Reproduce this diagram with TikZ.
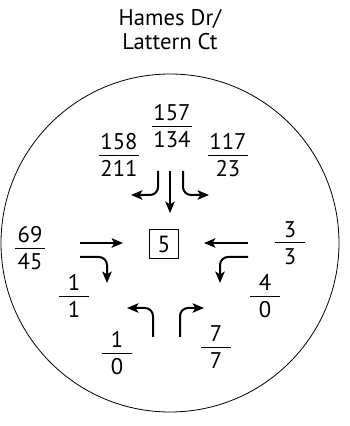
\documentclass[tikz,border=0pt]{standalone}
\usepackage{fontspec}
\usepackage{tikz}
\setmainfont{PT Sans}
\usetikzlibrary{positioning,arrows.meta}

\setlength{\arrayrulewidth}{0.6pt}
\newcommand{\flow}[2]{{\renewcommand{\arraystretch}{0}%
  \begin{tabular}{@{\hspace{1pt}}c@{\hspace{1pt}}}\rule[-3.75pt]{0pt}{3.75pt}#1\\\hline
  \rule{0pt}{15.6pt}#2\\\rule{20.5pt}{0pt}\end{tabular}}}

\begin{document}
\begin{tikzpicture}[
      x=0.75pt, y=0.75pt,
      >={Stealth[length=8.5pt,width=7pt,inset=2pt]},
      vol/.style={inner sep=0pt, font=\fontsize{17}{19}\selectfont},
      lane/.style={line width=1.5pt, ->, rounded corners=6pt},
      idbox/.style={draw, line width=0.6pt, minimum width=21.5pt, minimum height=22pt, inner sep=0pt, font=\fontsize{17.5}{20}\selectfont}]
    \useasboundingbox (0,0) rectangle (350,426);
    \node[align=center, font=\fontsize{17}{18}\selectfont] (title) at (170,396) {Hames Dr/\\Lattern Ct};
    \node[draw, circle, line width=0.6pt, minimum size=253.5pt, inner sep=0pt] (ring) at (170,183) {};
    \node[idbox] (id) at (164,182) {5};

    % volumes per approach
    \node[vol] (nThru) at (172,300) {\flow{157}{134}};
    \node[vol] (nLeft) at (119,271) {\flow{158}{211}};
    \node[vol] (nRight) at (228,271) {\flow{117}{23}};
    \node[vol] (wThru) at (30,178) {\flow{69}{45}};
    \node[vol] (wRight) at (74,130) {\flow{1}{1}};
    \node[vol] (eThru) at (290,183) {\flow{3}{3}};
    \node[vol] (eLeft) at (265,130) {\flow{4}{0}};
    \node[vol] (sLeft) at (117,73) {\flow{1}{0}};
    \node[vol] (sRight) at (216,79) {\flow{7}{7}};

    % turning movements
    \draw[lane] (158,255) -- (158,231) -- (131,231);
    \draw[lane] (170,255) -- (170,213);
    \draw[lane] (183,255) -- (183,231) -- (209,231);
    \draw[lane] (80,183) -- (123,183);
    \draw[lane] (80,169) -- (107,169) -- (107,143);
    \draw[lane] (248,183) -- (204,183);
    \draw[lane] (248,169) -- (220,169) -- (220,143);
    \draw[lane] (153,89) -- (153,118) -- (127,118);
    \draw[lane] (180,89) -- (180,118) -- (204,118);
  \end{tikzpicture}
\end{document}
